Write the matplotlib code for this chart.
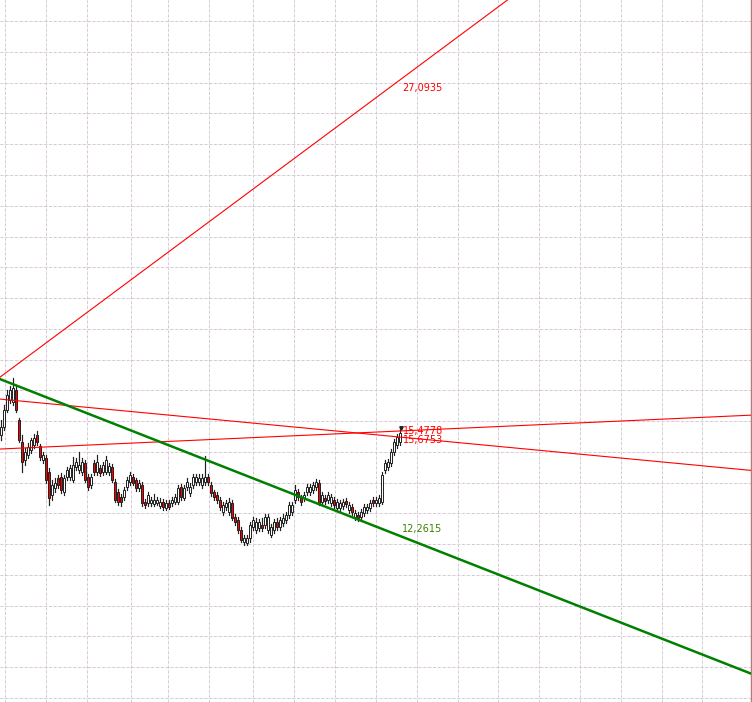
import matplotlib
matplotlib.use("Agg")
import matplotlib.pyplot as plt
from matplotlib.patches import Rectangle

# daily candles (open, high, low, close)
opens = [15.54, 15.80, 16.36, 16.68, 16.62, 17.01, 16.03, 15.32, 14.73, 14.89,
         15.06, 15.22, 15.54, 15.19, 14.73, 14.80, 14.34, 13.59, 13.82, 14.15,
         14.18, 13.69, 14.18, 14.18, 14.08, 14.50, 14.41, 14.34, 14.63, 14.18,
         13.92, 14.63, 14.34, 14.47, 14.34, 14.34, 14.34, 14.50, 14.02, 13.69,
         13.53, 13.53, 13.85, 14.02, 14.18, 14.08, 13.82, 13.92, 13.37, 13.33,
         13.33, 13.30, 13.33, 13.24, 13.37, 13.17, 13.33, 13.33, 13.37, 13.37,
         13.85, 13.50, 13.85, 13.66, 13.92, 14.02, 14.02, 13.92, 14.02, 14.18,
         13.92, 13.69, 13.59, 13.43, 13.04, 13.20, 13.04, 13.33, 12.88, 12.78,
         12.46, 12.07, 12.03, 12.20, 12.55, 12.46, 12.52, 12.62, 12.62, 12.46,
         12.29, 12.46, 12.72, 12.55, 12.68, 12.78, 12.94, 13.04, 13.43, 13.69,
         13.50, 13.50, 13.69, 13.69, 13.76, 13.85, 13.98, 13.37, 13.50, 13.43,
         13.33, 13.43, 13.17, 13.17, 13.24, 13.40, 13.11, 13.20, 12.88, 12.94,
         12.88, 13.01, 13.11, 13.17, 13.43, 13.33, 13.33, 13.37, 14.41, 14.50,
         14.63, 14.99, 15.22, 15.32]
highs = [16.03, 16.52, 17.01, 17.14, 17.40, 17.17, 16.10, 15.54, 15.12, 15.28,
         15.45, 15.58, 15.67, 15.25, 14.99, 14.89, 14.47, 14.08, 14.15, 14.24,
         14.31, 14.24, 14.50, 14.57, 14.83, 14.80, 14.99, 14.80, 14.73, 14.28,
         14.28, 14.73, 14.89, 14.57, 14.67, 14.86, 14.63, 14.60, 14.11, 13.79,
         13.63, 13.85, 14.18, 14.34, 14.28, 14.15, 14.08, 14.02, 13.46, 13.69,
         13.53, 13.63, 13.53, 13.50, 13.46, 13.43, 13.43, 13.53, 13.63, 13.92,
         13.95, 13.92, 14.15, 13.98, 14.28, 14.28, 14.28, 14.28, 14.86, 14.28,
         14.02, 13.76, 13.69, 13.53, 13.37, 13.43, 13.50, 13.43, 12.98, 12.88,
         12.55, 12.29, 12.29, 12.72, 12.88, 12.85, 12.81, 12.85, 12.98, 12.98,
         12.65, 12.81, 12.85, 12.88, 12.98, 13.04, 13.37, 13.37, 13.92, 13.79,
         13.59, 13.69, 13.95, 13.95, 14.02, 14.11, 14.08, 13.69, 13.59, 13.69,
         13.63, 13.53, 13.46, 13.43, 13.46, 13.50, 13.37, 13.30, 13.11, 13.04,
         13.14, 13.30, 13.30, 13.43, 13.53, 13.53, 13.59, 14.34, 14.73, 14.76,
         15.09, 15.41, 15.58, 15.77]
lows = [15.38, 15.71, 16.29, 16.59, 16.52, 16.29, 15.32, 14.34, 14.57, 14.80,
        14.96, 15.12, 15.22, 14.73, 14.63, 13.98, 13.27, 13.43, 13.69, 13.82,
        13.66, 13.59, 14.08, 14.08, 14.02, 14.41, 14.31, 14.24, 14.02, 13.76,
        13.82, 14.24, 14.24, 14.21, 14.24, 14.28, 14.24, 14.02, 13.37, 13.27,
        13.24, 13.43, 13.76, 13.92, 13.92, 13.72, 13.72, 13.24, 13.17, 13.24,
        13.24, 13.24, 13.27, 13.17, 13.11, 13.11, 13.14, 13.24, 13.30, 13.30,
        13.43, 13.43, 13.76, 13.56, 13.82, 13.92, 13.92, 13.82, 13.92, 13.92,
        13.56, 13.43, 13.33, 13.11, 12.94, 13.11, 12.94, 12.78, 12.62, 12.36,
        12.07, 11.97, 11.97, 12.07, 12.46, 12.36, 12.42, 12.42, 12.52, 12.36,
        12.23, 12.36, 12.46, 12.46, 12.59, 12.68, 12.85, 12.94, 13.33, 13.43,
        13.27, 13.40, 13.59, 13.59, 13.66, 13.76, 13.27, 13.27, 13.30, 13.33,
        13.24, 13.17, 13.07, 13.07, 13.14, 13.20, 13.01, 12.94, 12.78, 12.75,
        12.78, 12.91, 13.01, 13.07, 13.24, 13.24, 13.24, 13.30, 14.31, 14.41,
        14.54, 14.89, 15.12, 15.22]
closes = [15.80, 16.36, 16.85, 17.01, 17.07, 16.36, 15.38, 14.67, 14.99, 15.15,
          15.38, 15.45, 15.32, 14.83, 14.89, 14.08, 13.50, 13.92, 13.98, 13.92,
          13.76, 14.15, 14.41, 14.47, 14.57, 14.67, 14.57, 14.67, 14.08, 13.85,
          14.18, 14.34, 14.67, 14.31, 14.57, 14.73, 14.54, 14.08, 13.43, 13.37,
          13.37, 13.76, 14.08, 14.24, 13.98, 13.82, 13.98, 13.33, 13.27, 13.59,
          13.43, 13.43, 13.43, 13.37, 13.20, 13.33, 13.20, 13.43, 13.53, 13.82,
          13.53, 13.82, 14.02, 13.85, 14.18, 14.18, 14.15, 14.15, 14.18, 14.02,
          13.66, 13.53, 13.43, 13.20, 13.27, 13.33, 13.37, 12.85, 12.72, 12.46,
          12.13, 12.20, 12.20, 12.62, 12.78, 12.72, 12.72, 12.52, 12.88, 12.88,
          12.55, 12.72, 12.55, 12.78, 12.85, 12.94, 13.27, 13.27, 13.76, 13.53,
          13.37, 13.59, 13.85, 13.85, 13.92, 14.02, 13.33, 13.59, 13.40, 13.59,
          13.53, 13.27, 13.37, 13.33, 13.37, 13.30, 13.27, 13.04, 13.01, 12.85,
          13.04, 13.20, 13.20, 13.33, 13.33, 13.43, 13.50, 14.24, 14.63, 14.67,
          14.99, 15.32, 15.48, 15.61]

# trend lines: value at first candle and value at last candle
red_up = (17.45, 27.0935)
red_flat = (15.09, 15.6753)
red_down = (16.71, 15.4778)
green_down = (17.35, 12.2615)

# date grid positions (in candle units)
vgrid = [1.3, 15, 28.7, 43.3, 55.7, 69.3, 84, 97.7, 111.3, 125, 138.7,
         152.3, 165.7, 179.3, 193, 206.7, 220.3, 233.7]

n = len(closes)
last = n - 1

fig = plt.figure(figsize=(7.52, 7.02), dpi=100)
ax = fig.add_axes([0, 0, 751 / 752, 1])
ax.set_xlim(-1 / 3, 750 / 3)
ax.set_ylim(6.862, 29.691)
for s in ['top', 'left', 'bottom']:
    ax.spines[s].set_visible(False)
ax.spines['right'].set_color('#b87878')
ax.spines['right'].set_linewidth(1)
ax.set_xticks([])
ax.set_yticks([])

# grid: grey dashes with pale pink in the gaps
for p in range(7, 30):
    ax.axhline(p, color='#c8c8c8', lw=0.7, ls=(0, (3, 2)), zorder=0)
    ax.axhline(p, color='#f4dcf4', lw=0.7, ls=(3, (2, 3)), zorder=0)
for g in vgrid:
    ax.axvline(g, color='#c8c8c8', lw=0.7, ls=(0, (3, 2)), zorder=0)
    ax.axvline(g, color='#f4dcf4', lw=0.7, ls=(3, (2, 3)), zorder=0)

# candles
for i in range(n):
    o, h, l, c = opens[i], highs[i], lows[i], closes[i]
    ax.plot([i, i], [l, h], color='#202020', lw=0.85, zorder=2)
    col = 'white' if c >= o else '#ff0000'
    lo = min(o, c)
    ht = max(abs(c - o), 0.02)
    ax.add_patch(Rectangle((i - 0.42, lo), 0.84, ht, facecolor=col,
                           edgecolor='#202020', lw=0.7, zorder=3))

# trend lines
ax.axline((0, red_up[0]), (last, red_up[1]), color='#ff0000', lw=0.8, zorder=4)
ax.axline((0, red_flat[0]), (last, red_flat[1]), color='#ff0000', lw=0.8, zorder=4)
ax.axline((0, red_down[0]), (last, red_down[1]), color='#ff0000', lw=0.8, zorder=4)
ax.axline((0, green_down[0]), (last, green_down[1]), color='#008000', lw=1.8, zorder=4)

# labels at the last candle
def label(val, dx, dy, color):
    ax.annotate(f"{val:.4f}".replace('.', ','), (last, val), xytext=(dx, dy),
                textcoords='offset points', fontsize=7, color=color,
                va='baseline', ha='left', zorder=5)

label(red_up[1], 1.5, -7.7, '#ff0000')
label(red_down[1], 2.2, 2.5, '#ff0000')
label(red_flat[1], 2.2, -8.6, '#ff0000')
label(green_down[1], 1.5, 2.9, '#3a8200')

ax.plot([last + 0.3], [highs[-1]], marker='v', ms=2.5, color='#202020', zorder=5)

fig.savefig('out.png', dpi=100)
